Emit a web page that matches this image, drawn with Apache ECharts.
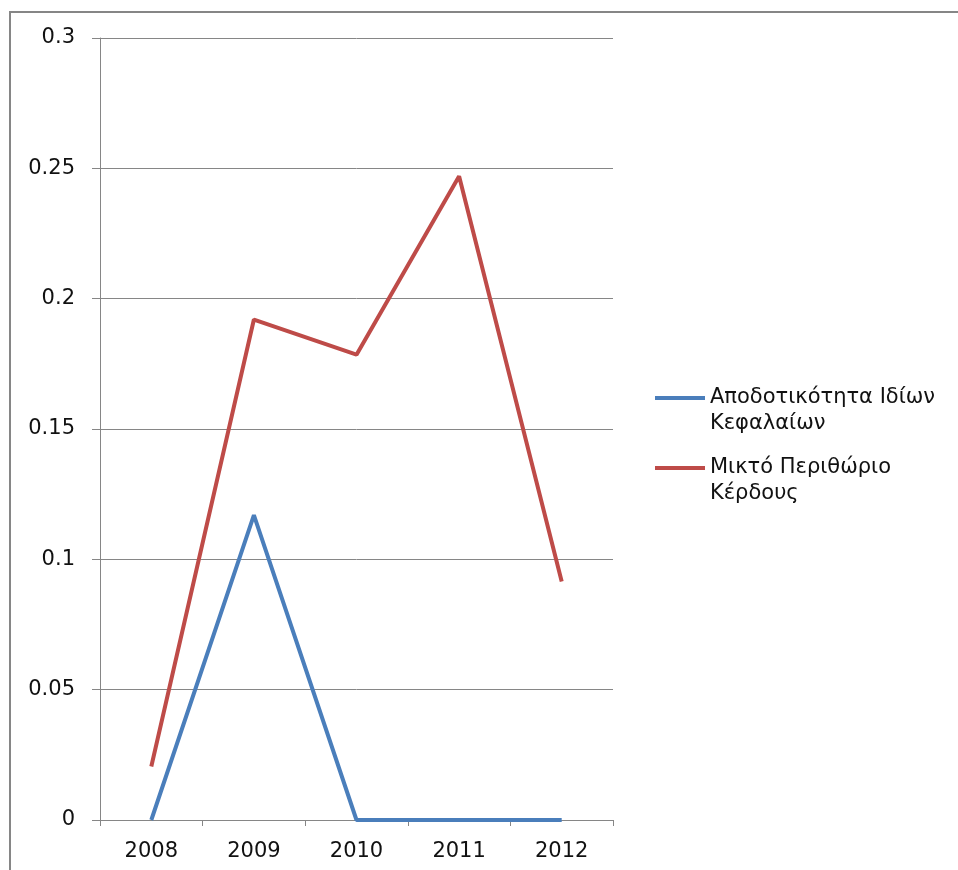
<!DOCTYPE html>
<html><head><meta charset="utf-8">
<script src="https://cdn.jsdelivr.net/npm/echarts@6/dist/echarts.min.js"></script>
<style>html,body{margin:0;padding:0;background:#fff}#c{width:958px;height:870px}</style>
</head><body><div id="c"></div>
<script>
var categories = ['2008', '2009', '2010', '2011', '2012'];
var seriesNames = ['Αποδοτικότητα Ιδίων Κεφαλαίων', 'Μικτό Περιθώριο Κέρδους'];
var roeValues = [0, 0.117, 0, 0, 0];
var marginValues = [0.0205, 0.192, 0.1785, 0.247, 0.0915];
var yMin = 0, yMax = 0.3, yStep = 0.05;

var chart = echarts.init(document.getElementById('c'), null, {renderer: 'canvas'});
var font = 'DejaVu Sans';
chart.setOption({
  animation: false,
  backgroundColor: '#fff',
  graphic: [{
    type: 'rect', silent: true,
    shape: {x: 10, y: 12, width: 1100, height: 1000},
    style: {fill: 'none', stroke: '#868686', lineWidth: 2}
  }],
  grid: {left: 100, right: 345, top: 38, bottom: 50, containLabel: false},
  legend: {
    orient: 'vertical', left: 650, top: 354, itemGap: -8,
    itemWidth: 50, itemHeight: 14, icon: 'path://M0,0L50,0L50,4L0,4Z',
    data: seriesNames,
    formatter: function (n) { return '\n' + n.replace(/ (\S+)$/, '\n$1'); },
    textStyle: {fontFamily: font, fontSize: 21, color: '#111', lineHeight: 26}
  },
  xAxis: {
    type: 'category', data: categories, boundaryGap: true,
    axisLine: {lineStyle: {color: '#868686', width: 1}},
    axisTick: {show: true, length: 6, lineStyle: {color: '#868686'}},
    axisLabel: {fontFamily: font, fontSize: 21, color: '#111', margin: 21}
  },
  yAxis: {
    type: 'value', min: yMin, max: yMax, interval: yStep,
    axisLine: {show: true, lineStyle: {color: '#868686', width: 1}},
    axisTick: {show: true, length: 8, lineStyle: {color: '#868686'}},
    splitLine: {show: true, lineStyle: {color: '#868686', width: 1}},
    axisLabel: {fontFamily: font, fontSize: 21, color: '#111', margin: 25}
  },
  series: [
    {name: seriesNames[0], type: 'line', data: roeValues, symbol: 'none',
     itemStyle: {color: '#4A7EBB'}, lineStyle: {color: '#4A7EBB', width: 4}},
    {name: seriesNames[1], type: 'line', data: marginValues, symbol: 'none',
     itemStyle: {color: '#BE4B48'}, lineStyle: {color: '#BE4B48', width: 4}}
  ]
});
</script></body></html>
